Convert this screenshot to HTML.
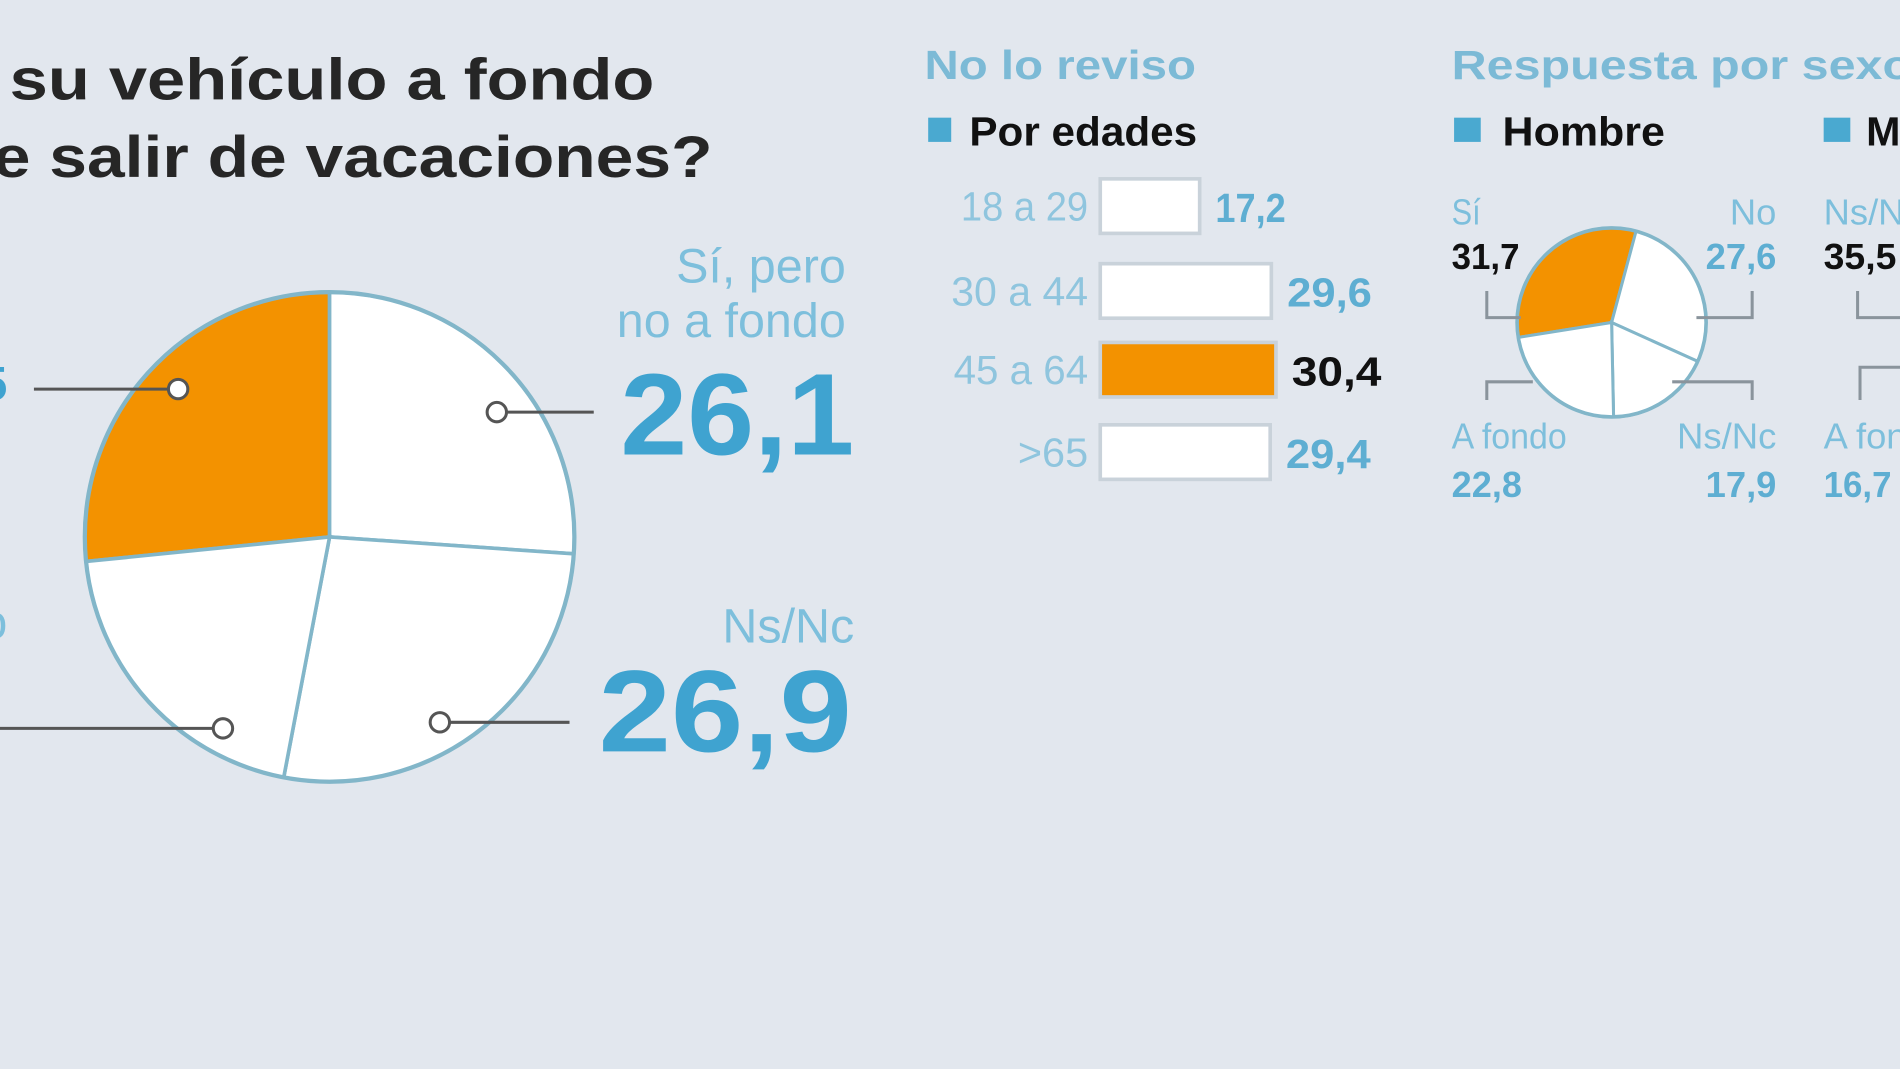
<!DOCTYPE html>
<html><head><meta charset="utf-8">
<style>
html,body{margin:0;padding:0;background:#e2e7ee;overflow:hidden}
svg{display:block}
text{font-family:"Liberation Sans",sans-serif}
</style></head>
<body>
<svg id="chart" width="1900" height="1069" viewBox="0 0 1568 882" xmlns="http://www.w3.org/2000/svg">
<rect width="1568" height="882" fill="#e2e7ee"/>
<text x="8" y="82" font-size="48" font-weight="bold" fill="#262626" textLength="532" lengthAdjust="spacingAndGlyphs">su vehículo a fondo</text>
<text x="-6" y="146" font-size="48" font-weight="bold" fill="#262626" textLength="594" lengthAdjust="spacingAndGlyphs">e salir de vacaciones?</text>
<g id="mainpie"></g>
<g id="mainlabels">
<text x="698" y="233" font-size="40" fill="#7dbfdc" text-anchor="end">Sí, pero</text>
<text x="698" y="278" font-size="40" fill="#7dbfdc" text-anchor="end">no a fondo</text>
<text x="512" y="375" font-size="96" font-weight="bold" fill="#3fa3d0" textLength="193" lengthAdjust="spacingAndGlyphs">26,1</text>
<text x="705" y="530" font-size="40" fill="#7dbfdc" text-anchor="end">Ns/Nc</text>
<text x="494" y="620" font-size="96" font-weight="bold" fill="#3fa3d0" textLength="209" lengthAdjust="spacingAndGlyphs">26,9</text>
<text x="6" y="330" font-size="40" font-weight="bold" fill="#3fa3d0" text-anchor="end">5</text>
<text x="6" y="527" font-size="40" fill="#7dbfdc" text-anchor="end">o</text>
</g>
<text x="763" y="65" font-size="34" font-weight="bold" fill="#7cbad6" textLength="224" lengthAdjust="spacingAndGlyphs">No lo reviso</text>
<rect x="766" y="97" width="19" height="20" fill="#4aa9d0"/>
<text x="800" y="120" font-size="34" font-weight="bold" fill="#111" textLength="188" lengthAdjust="spacingAndGlyphs">Por edades</text>
<g id="bars"></g>
<text x="1198" y="65" font-size="34" font-weight="bold" fill="#7cbad6" textLength="380" lengthAdjust="spacingAndGlyphs">Respuesta por sexo</text>
<rect x="1200" y="97" width="22" height="20" fill="#4aa9d0"/>
<text x="1240" y="120" font-size="34" font-weight="bold" fill="#111" textLength="134" lengthAdjust="spacingAndGlyphs">Hombre</text>
<rect x="1505" y="97" width="22" height="20" fill="#4aa9d0"/>
<text x="1540" y="120" font-size="34" font-weight="bold" fill="#111">Mujer</text>
<g id="smallpie"></g>
<g font-size="30">
<text x="1198" y="185" fill="#7dbfdc" textLength="24" lengthAdjust="spacingAndGlyphs">Sí</text>
<text x="1198" y="222" fill="#111" font-weight="bold" textLength="56" lengthAdjust="spacingAndGlyphs">31,7</text>
<text x="1466" y="185" fill="#7dbfdc" text-anchor="end">No</text>
<text x="1466" y="222" fill="#5eaed2" font-weight="bold" text-anchor="end">27,6</text>
<text x="1198" y="370" fill="#7dbfdc" textLength="95" lengthAdjust="spacingAndGlyphs">A fondo</text>
<text x="1198" y="410" fill="#5eaed2" font-weight="bold" textLength="58" lengthAdjust="spacingAndGlyphs">22,8</text>
<text x="1384" y="370" fill="#7dbfdc" textLength="82" lengthAdjust="spacingAndGlyphs">Ns/Nc</text>
<text x="1466" y="410" fill="#5eaed2" font-weight="bold" text-anchor="end">17,9</text>
<text x="1505" y="185" fill="#7dbfdc">Ns/Nc</text>
<text x="1505" y="222" fill="#111" font-weight="bold" textLength="60" lengthAdjust="spacingAndGlyphs">35,5</text>
<text x="1505" y="370" fill="#7dbfdc">A fondo</text>
<text x="1505" y="410" fill="#5eaed2" font-weight="bold" textLength="56" lengthAdjust="spacingAndGlyphs">16,7</text>
<path d="M1227 240V262H1255M1446 240V262H1400M1227 330V315H1265M1446 330V315H1380M1533 240V262H1568M1535 330V303H1568" fill="none" stroke="#8a949c" stroke-width="2.5"/>
</g>
</svg>
<script>
const NS="http://www.w3.org/2000/svg";
const mainCats=["Sí, a fondo","Sí, pero no a fondo","Ns/Nc","No"];
const mainVals=[26.6,26.1,26.9,20.4];
const ageCats=["18 a 29","30 a 44","45 a 64",">65"];
const ageVals=[17.2,29.6,30.4,29.4];
const ageLabels=["17,2","29,6","30,4","29,4"];
const hombreCats=["Sí","No","Ns/Nc","A fondo"];
const hombreVals=[31.7,27.6,17.9,22.8];

function mk(tag,attrs,parent){const e=document.createElementNS(NS,tag);for(const k in attrs)e.setAttribute(k,attrs[k]);parent.appendChild(e);return e;}
function pt(cx,cy,r,deg){const a=deg*Math.PI/180;return [cx+r*Math.sin(a),cy-r*Math.cos(a)];}
function drawPie(g,cx,cy,r,vals,start,highlight,sw,prefix){
  const tot=vals.reduce((a,b)=>a+b,0);let a0=start;
  vals.forEach((v,i)=>{
    const a1=a0+v/tot*360;const p0=pt(cx,cy,r,a0),p1=pt(cx,cy,r,a1);
    const large=(a1-a0)>180?1:0;
    const p=mk("path",{d:`M${cx} ${cy}L${p0[0]} ${p0[1]}A${r} ${r} 0 ${large} 1 ${p1[0]} ${p1[1]}Z`,fill:i===highlight?"#f39200":"#fff",stroke:"#82b6c9","stroke-width":sw},g);
    
    
    a0=a1;
  });
  const c=mk("circle",{cx:cx,cy:cy,r:r,fill:"none",stroke:"#82b6c9","stroke-width":sw+0.5},g);
  
  
}
const mp=document.getElementById("mainpie");
const mtot=mainVals.reduce((a,b)=>a+b,0);
drawPie(mp,272,443,202,mainVals,-mainVals[0]/mtot*360,0,3,"main-pie");
const leaders=[[147,321,28,321],[410,340,490,340],[363,596,470,596],[184,601,0,601]];
leaders.forEach((l,i)=>{
  const ln=mk("line",{x1:l[0],y1:l[1],x2:l[2],y2:l[3],stroke:"#555","stroke-width":2.5},mp);
  
  
  const c=mk("circle",{cx:l[0],cy:l[1],r:8,fill:"#fff",stroke:"#555","stroke-width":2.5},mp);
  
  
});
const bg=document.getElementById("bars");
const x0=908,scale=4.77,rowY=[170,240,305,373],bh=45,maxIdx=ageVals.indexOf(Math.max(...ageVals));
const catW=[105,113,111,58];
ageVals.forEach((v,i)=>{
  const cy=rowY[i];
  const t=mk("text",{x:898-catW[i],y:cy+12,"font-size":34,fill:"#8fc5de",textLength:catW[i],lengthAdjust:"spacingAndGlyphs"},bg);
  t.textContent=ageCats[i];
  
  
  const hi=i===maxIdx;
  const r=mk("rect",{x:x0,y:cy-bh/2,width:v*scale,height:bh,fill:hi?"#f39200":"#fff",stroke:"#c9d2da","stroke-width":3},bg);
  
  
  const vt=mk("text",{x:x0+v*scale+13,y:cy+13,"font-size":34,"font-weight":"bold",fill:hi?"#111":"#5eaed2",textLength:hi?74:(i===0?58:70),lengthAdjust:"spacingAndGlyphs"},bg);
  vt.textContent=ageLabels[i];
  
  
});
const sp=document.getElementById("smallpie");
const htot=hombreVals.reduce((a,b)=>a+b,0);
drawPie(sp,1330,266,78,hombreVals,15-hombreVals[0]/htot*360,0,2.5,"hombre-pie");
</script>
</body></html>
